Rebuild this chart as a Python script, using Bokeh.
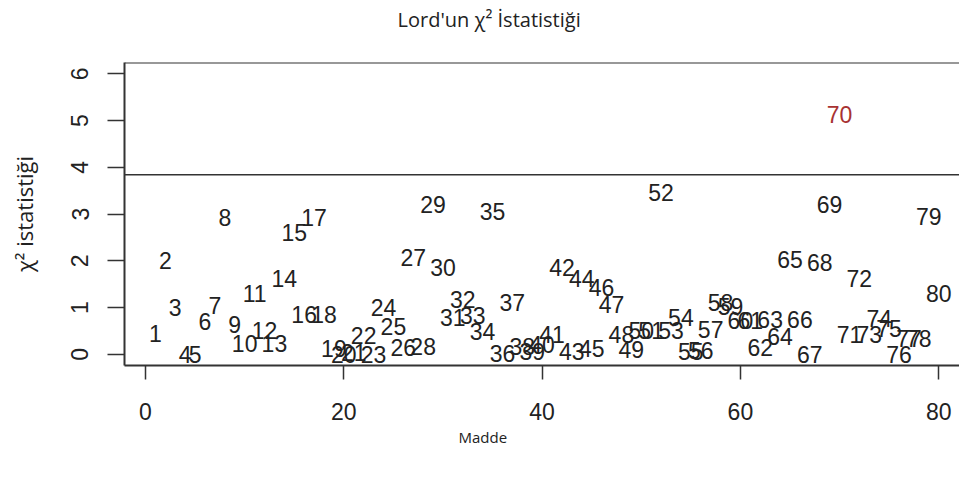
from bokeh.plotting import figure
from bokeh.models import ColumnDataSource, Span, FixedTicker, Range1d, Title
from bokeh.embed import file_html
from bokeh.resources import INLINE
from bokeh.core.properties import value

# Lord's chi-square statistic per item (Madde 1..80)
items = list(range(1, 81))
chi2 = [
    0.44, 2.00, 0.99, 0.00, 0.00, 0.71, 1.05, 2.92, 0.64, 0.23,
    1.29, 0.51, 0.23, 1.63, 2.60, 0.85, 2.92, 0.85, 0.12, 0.00,
    0.03, 0.40, 0.00, 0.99, 0.60, 0.14, 2.06, 0.16, 3.20, 1.85,
    0.78, 1.17, 0.82, 0.49, 3.06, 0.02, 1.10, 0.17, 0.05, 0.20,
    0.42, 1.85, 0.05, 1.63, 0.12, 1.42, 1.06, 0.42, 0.10, 0.50,
    0.50, 3.45, 0.50, 0.78, 0.06, 0.08, 0.53, 1.10, 1.03, 0.72,
    0.72, 0.15, 0.75, 0.37, 2.03, 0.75, 0.00, 1.96, 3.20, 5.13,
    0.42, 1.63, 0.42, 0.76, 0.56, 0.00, 0.33, 0.33, 2.95, 1.31,
]
critical = 3.84          # chi-square critical value, df = 1, alpha = .05
x_ticks = [0, 20, 40, 60, 80]
y_ticks = [0, 1, 2, 3, 4, 5, 6]
title_text = "Lord'un χ² İstatistiği"
x_title = "Madde"
y_title = "χ² istatistiği"

LABEL_FONT = "Liberation Sans"
NOTE_FONT = "Open Sans"
INK = "#222222"
FLAG = "#a83232"
LINE = "#333333"

colors = [FLAG if v > critical else INK for v in chi2]
src = ColumnDataSource(dict(x=items, y=chi2, label=[str(i) for i in items], color=colors))

p = figure(width=959, height=477, output_backend="svg", toolbar_location=None,
           title_location=None,
           x_range=Range1d(-2.12, 82.1), y_range=Range1d(-0.24, 6.24),
           min_border_left=124, min_border_top=62, min_border_bottom=112,
           min_border_right=0)
p.outline_line_color = None
p.background_fill_color = "white"
p.border_fill_color = "white"
p.grid.visible = False

# item numbers drawn at their statistic
p.text(x="x", y="y", text="label", source=src, text_color="color",
       text_align="center", text_baseline="middle",
       text_font=value(LABEL_FONT), text_font_size="23px")

# critical value line and top border of the box
p.add_layout(Span(location=critical, dimension="width",
                  line_color=LINE, line_width=1.6))
p.add_layout(Span(location=6.24, dimension="width",
                  line_color=LINE, line_width=2))

# main title: a blank spacer row between the box and the title text
p.add_layout(Title(text=" ", text_font_size="2px", standoff=24), "above")
p.add_layout(Title(text=title_text, text_font=NOTE_FONT, text_font_size="20px",
                   text_font_style="normal", text_color=INK,
                   align="left", offset=273, vertical_align="top",
                   standoff=0), "above")

# x axis
xa = p.xaxis[0]
xa.ticker = FixedTicker(ticks=x_ticks)
xa.axis_line_color = LINE
xa.axis_line_width = 2
xa.major_tick_line_color = LINE
xa.major_tick_line_width = 1.5
xa.major_tick_out = 14
xa.major_tick_in = 0
xa.minor_tick_line_color = None
xa.major_label_text_font = LABEL_FONT
xa.major_label_text_font_size = "23px"
xa.major_label_text_color = INK
xa.major_label_standoff = 23

# x axis title, set under the tick labels
p.add_layout(Title(text=x_title, text_font=NOTE_FONT, text_font_size="15px",
                   text_font_style="normal", text_color=INK,
                   align="left", offset=334, vertical_align="top",
                   standoff=8), "below")

# y axis
ya = p.yaxis[0]
ya.ticker = FixedTicker(ticks=y_ticks)
ya.axis_line_color = LINE
ya.axis_line_width = 2
ya.major_tick_line_color = LINE
ya.major_tick_line_width = 1.5
ya.major_tick_out = 17
ya.major_tick_in = 0
ya.minor_tick_line_color = None
ya.major_label_orientation = "parallel"
ya.major_label_text_font = LABEL_FONT
ya.major_label_text_font_size = "23px"
ya.major_label_text_color = INK
ya.major_label_standoff = 19
ya.axis_label = y_title
ya.axis_label_text_font = NOTE_FONT
ya.axis_label_text_font_size = "22px"
ya.axis_label_text_font_style = "normal"
ya.axis_label_text_color = INK
ya.axis_label_standoff = 30

open("out.html", "w").write(file_html(p, INLINE))
